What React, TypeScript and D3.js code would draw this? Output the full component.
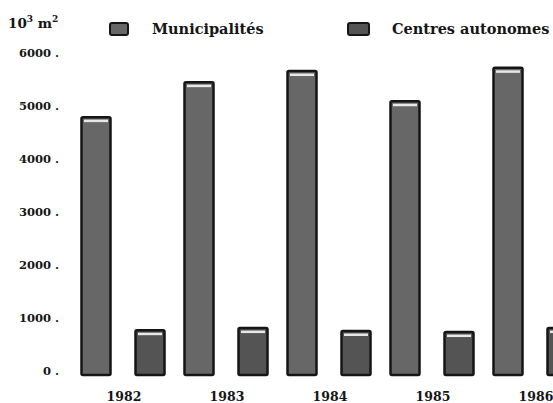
import { useEffect, useRef } from 'react'
import * as d3 from 'd3'

const years = ['1982', '1983', '1984', '1985', '1986']
const series = ['Municipalités', 'Centres autonomes']
const municipalites = [4790, 5450, 5660, 5090, 5720]
const centresAutonomes = [770, 810, 755, 735, 810]
const yTicks = [0, 1000, 2000, 3000, 4000, 5000, 6000]

const seriesColors: Record<string, string> = {
  'Municipalités': '#676767',
  'Centres autonomes': '#545454',
}

export default function App() {
  const svgRef = useRef<SVGSVGElement>(null)
  const width = 553
  const height = 403

  useEffect(() => {
    if (!svgRef.current) return
    const svg = d3.select(svgRef.current)
    svg.selectAll('*').remove()

    const font = '"DejaVu Serif", serif'

    const x0 = d3.scaleBand<string>()
      .domain(years)
      .range([71.5, 586.5])
      .paddingInner(0)
      .paddingOuter(0)

    const x1 = d3.scaleBand<string>()
      .domain(series)
      .range([0, x0.bandwidth()])
      .paddingInner(0.463)
      .paddingOuter(0.185)

    const y = d3.scaleLinear()
      .domain([0, 6000])
      .range([371, 53])

    // y tick labels
    svg.append('g')
      .selectAll('text')
      .data(yTicks)
      .enter()
      .append('text')
      .attr('x', 59)
      .attr('y', d => y(d))
      .attr('dy', '0.35em')
      .attr('text-anchor', 'end')
      .attr('font-family', font)
      .attr('font-weight', 'bold')
      .attr('font-size', '11.5px')
      .attr('fill', '#151515')
      .text(d => `${d} .`)

    // unit label
    const unit = svg.append('text')
      .attr('x', 8)
      .attr('y', 28)
      .attr('font-family', font)
      .attr('font-weight', 'bold')
      .attr('font-size', '13.5px')
      .attr('fill', '#151515')
    unit.append('tspan').text('10')
    unit.append('tspan').attr('dy', -6).attr('font-size', '9px').text('3')
    unit.append('tspan').attr('dy', 6).text(' m')
    unit.append('tspan').attr('dy', -6).attr('font-size', '9px').text('2')

    const rows = years.map((yr, i) => ({
      year: yr,
      values: [
        { key: series[0], value: municipalites[i] },
        { key: series[1], value: centresAutonomes[i] },
      ],
    }))

    const groups = svg.append('g')
      .selectAll('g')
      .data(rows)
      .enter()
      .append('g')
      .attr('transform', d => `translate(${x0(d.year)},0)`)

    const bars = groups.selectAll('g')
      .data(d => d.values)
      .enter()
      .append('g')

    bars.append('rect')
      .attr('x', d => x1(d.key)!)
      .attr('y', d => y(d.value))
      .attr('width', x1.bandwidth())
      .attr('height', d => y(0) - y(d.value) + 4)
      .attr('fill', d => seriesColors[d.key])
      .attr('stroke', '#151515')
      .attr('stroke-width', 2.5)
      .attr('rx', 1.5)

    // light stripe under the top edge
    bars.append('rect')
      .attr('x', d => x1(d.key)! + 2.5)
      .attr('y', d => y(d.value) + 2.5)
      .attr('width', x1.bandwidth() - 5)
      .attr('height', 2.5)
      .attr('fill', '#e8e8e8')

    // year labels
    svg.append('g')
      .selectAll('text')
      .data(years)
      .enter()
      .append('text')
      .attr('x', d => x0(d)! + x0.bandwidth() / 2 + 1)
      .attr('y', 397)
      .attr('dy', '0.35em')
      .attr('text-anchor', 'middle')
      .attr('font-family', font)
      .attr('font-weight', 'bold')
      .attr('font-size', '12.5px')
      .attr('fill', '#151515')
      .text(d => d)

    // legend
    const legendX = [110, 348]
    const legend = svg.append('g')
      .selectAll('g')
      .data(series)
      .enter()
      .append('g')
      .attr('transform', (d, i) => `translate(${legendX[i]},23)`)

    legend.append('rect')
      .attr('width', (d, i) => (i === 0 ? 18 : 21))
      .attr('height', 12)
      .attr('rx', 2)
      .attr('fill', d => seriesColors[d])
      .attr('stroke', '#151515')
      .attr('stroke-width', 2)

    legend.append('text')
      .attr('x', (d, i) => (i === 0 ? 42 : 44))
      .attr('y', 6)
      .attr('dy', '0.35em')
      .attr('font-family', font)
      .attr('font-weight', 'bold')
      .attr('font-size', '14.5px')
      .attr('fill', '#151515')
      .text(d => d)
  }, [])

  return (
    <svg
      ref={svgRef}
      width={width}
      height={height}
      style={{ position: 'absolute', left: 0, top: 0, background: '#fff' }}
    />
  )
}
